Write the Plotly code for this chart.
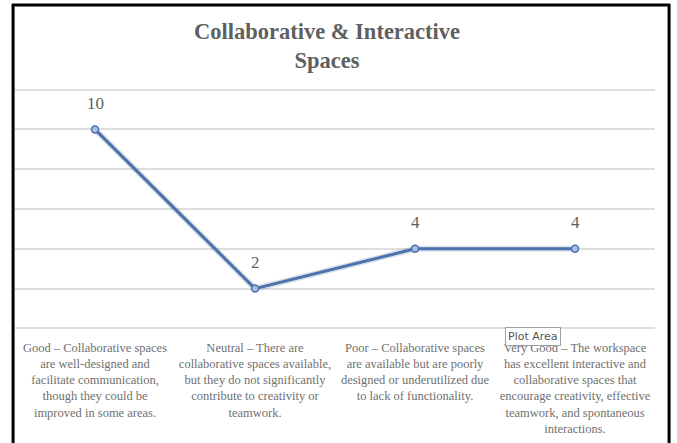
import plotly.graph_objects as go

# Ratings of collaborative & interactive spaces
categories = [
    "Good – Collaborative spaces<br>are well-designed and<br>facilitate communication,<br>though they could be<br>improved in some areas.",
    "Neutral – There are<br>collaborative spaces available,<br>but they do not significantly<br>contribute to creativity or<br>teamwork.",
    "Poor – Collaborative spaces<br>are available but are poorly<br>designed or underutilized due<br>to lack of functionality.",
    "Very Good – The workspace<br>has excellent interactive and<br>collaborative spaces that<br>encourage creativity, effective<br>teamwork, and spontaneous<br>interactions.",
]
counts = [10, 2, 4, 4]

TEXT_GREY = "#5f5f5f"
LINE_BLUE = "#4a72ac"
SERIF = "Liberation Serif, Times New Roman, serif"

fig = go.Figure()

# soft shadow under the line
fig.add_trace(go.Scatter(
    x=categories, y=counts, mode="lines",
    line=dict(color="rgba(60,80,120,0.18)", width=6),
    hoverinfo="skip", showlegend=False,
))
fig.add_trace(go.Scatter(
    x=categories, y=counts, mode="lines+markers",
    line=dict(color=LINE_BLUE, width=3),
    marker=dict(size=7, color="#a9c0e4", line=dict(color=LINE_BLUE, width=1.5)),
    showlegend=False,
))

# value labels above each point
for cat, val in zip(categories, counts):
    fig.add_annotation(
        x=cat, y=val, text=str(val), showarrow=False,
        yshift=26, font=dict(family=SERIF, size=17, color=TEXT_GREY),
    )

# "Plot Area" hover tip box
fig.add_annotation(
    xref="paper", yref="paper", x=0.81, y=-0.027,
    xanchor="center", yanchor="middle",
    text="Plot Area", showarrow=False,
    font=dict(family="DejaVu Sans, sans-serif", size=11, color="#555555"),
    bgcolor="white", bordercolor="#a0a0a0", borderwidth=1, borderpad=2,
)

# outer frame
frame = dict(color="black", width=3)
fig.add_shape(type="line", xref="paper", yref="paper", x0=-0.003, x1=-0.003, y0=1.345, y1=-0.5, line=frame)
fig.add_shape(type="line", xref="paper", yref="paper", x0=-0.005, x1=1.024, y0=1.343, y1=1.343, line=frame)
fig.add_shape(type="line", xref="paper", yref="paper", x0=1.022, x1=1.022, y0=1.345, y1=-0.5, line=frame)

fig.update_layout(
    width=677, height=443,
    margin=dict(l=15, r=22, t=88, b=113, autoexpand=False),
    paper_bgcolor="white", plot_bgcolor="white",
    title=dict(
        text="<b>Collaborative & Interactive<br>Spaces</b>",
        x=0.483, xanchor="center", y=0.912, yanchor="middle",
        font=dict(family=SERIF, size=22.5, color=TEXT_GREY),
    ),
    xaxis=dict(
        type="category", range=[-0.5, 3.5],
        showgrid=False, showline=False, zeroline=False,
        ticks="", ticklabelstandoff=8, automargin=False,
        tickfont=dict(family=SERIF, size=12.5, color="#707070"),
    ),
    yaxis=dict(
        range=[-0.08, 12.08], dtick=2, showticklabels=False,
        showgrid=True, gridcolor="#dedede", gridwidth=1.5,
        zeroline=True, zerolinecolor="#dedede", zerolinewidth=1.5,
        showline=False, automargin=False,
    ),
)

fig.write_html("out.html")
